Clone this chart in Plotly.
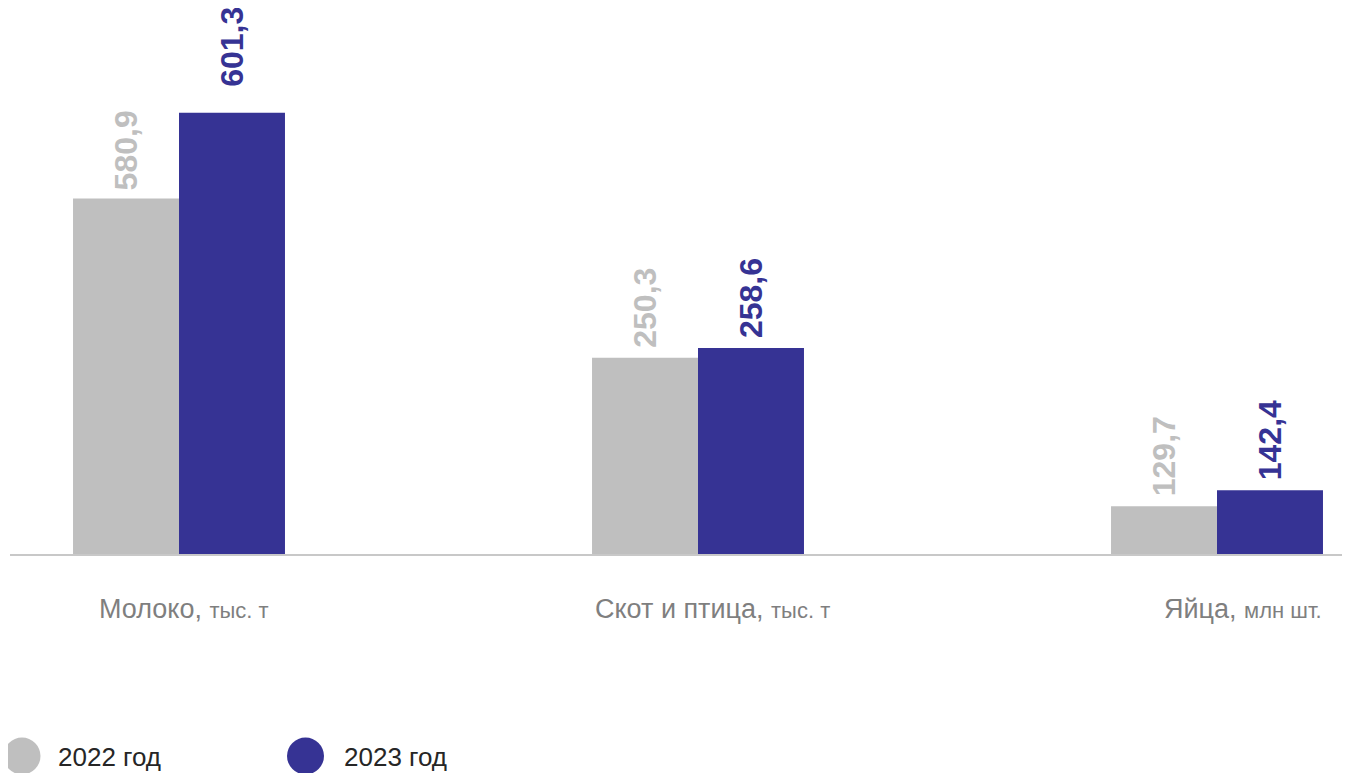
import plotly.graph_objects as go

categories = ["Молоко", "Скот и птица", "Яйца"]
units = ["тыс. т", "тыс. т", "млн шт."]
years = ["2022 год", "2023 год"]
values_2022 = [580.9, 250.3, 129.7]
values_2023 = [601.3, 258.6, 142.4]

GRAY = "#bfbfbf"
BLUE = "#363394"
FONT = "Arial, Liberation Sans, sans-serif"

# per-category value axes (the infographic uses its own scale for each group)
y_ranges = [[496.1, 626.3], [82.4, 549.5], [91.8, 525.1]]
bar_w = 0.2042
label_shift = [5, 14.5, 25.5]
# gap (px) between bar top and its value label: [2022, 2023] per category
label_gap = [[6, 24], [8, 8], [8, 8]]

OFF = 8  # page body margin
W, H = 1350 - OFF, 773 - OFF
ML, MR, MT, MB = 10 - OFF, 0, 0, 219
PW, PH = W - ML - MR, H - MT - MB
X0, Y0 = ML + OFF, MT + OFF  # plot-area corner in screen pixels


def px_x(p):
    return (p - X0) / PW


def px_y(p):
    return (Y0 + PH - p) / PH


def fmt(v):
    return f"{v:.1f}".replace(".", ",")


fig = go.Figure()
annotations = []
for i, cat in enumerate(categories):
    yname = "y" if i == 0 else f"y{i+1}"
    for j, (vals, color, off) in enumerate(((values_2022, GRAY, -bar_w), (values_2023, BLUE, 0.0))):
        fig.add_trace(go.Bar(
            x=[i], y=[vals[i]], yaxis=yname,
            width=bar_w, offset=off,
            marker=dict(color=color, line=dict(width=0)),
            showlegend=False, hoverinfo="skip",
        ))
        annotations.append(dict(
            x=i + off + bar_w / 2, y=vals[i], xref="x", yref=yname,
            text=f"<b>{fmt(vals[i])}</b>", showarrow=False,
            textangle=-90, yanchor="bottom", xanchor="center",
            yshift=label_gap[i][j],
            font=dict(family=FONT, size=32, color=color),
        ))
    annotations.append(dict(
        x=i, xref="x", y=px_y(609), yref="paper", xshift=label_shift[i],
        text=f"{cat}, <span style='font-size:22px'>{units[i]}</span>",
        showarrow=False, xanchor="center", yanchor="middle",
        font=dict(family=FONT, size=27, color="#7f7f7f"),
    ))

# legend drawn as circles + text
shapes = []
legend_items = [(years[0], GRAY, 22, 56), (years[1], BLUE, 305.5, 342)]
for name, color, cx, tx in legend_items:
    shapes.append(dict(
        type="circle", xref="paper", yref="paper",
        xsizemode="pixel", ysizemode="pixel",
        xanchor=px_x(cx), yanchor=px_y(756),
        x0=-18.5, x1=18.5, y0=-18.5, y1=18.5,
        fillcolor=color, line=dict(width=0),
    ))
    annotations.append(dict(
        x=px_x(tx), y=px_y(757), xref="paper", yref="paper",
        text=name, showarrow=False, xanchor="left", yanchor="middle",
        font=dict(family=FONT, size=26, color="#262626"),
    ))

xmin = (X0 - 179) / 519
xmax = (X0 + PW - 179) / 519

layout = dict(
    width=W, height=H,
    margin=dict(l=ML, r=MR, t=MT, b=MB, pad=0),
    paper_bgcolor="white", plot_bgcolor="white",
    barmode="overlay",
    showlegend=False,
    xaxis=dict(range=[xmin, xmax], showgrid=False, zeroline=False,
               showticklabels=False, ticks="", showline=True,
               linecolor="#c8c8c8", linewidth=2),
    annotations=annotations,
    shapes=shapes,
)
for i in range(3):
    key = "yaxis" if i == 0 else f"yaxis{i+1}"
    ax = dict(range=y_ranges[i], visible=False, showgrid=False, zeroline=False)
    if i > 0:
        ax["overlaying"] = "y"
    layout[key] = ax

fig.update_layout(**layout)
fig.write_html("out.html")
